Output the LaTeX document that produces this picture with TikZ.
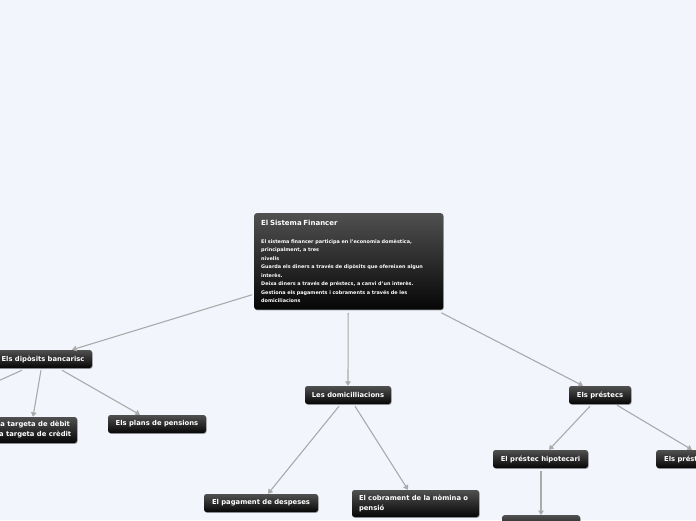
\documentclass[tikz,border=0pt]{standalone}
\usepackage{fontspec}
\setmainfont{DejaVu Sans}
\usetikzlibrary{shadows,arrows.meta,calc}
\definecolor{bg}{RGB}{243,245,253}
\definecolor{boxtop}{RGB}{80,80,80}
\definecolor{boxbot}{RGB}{6,6,6}
\definecolor{conncol}{RGB}{170,170,170}
\tikzset{
 box/.style={rounded corners=2.5pt, top color=boxtop, bottom color=boxbot, draw=none, text=white,
   font=\fontsize{6.8}{10}\selectfont\bfseries, inner sep=0pt,
   drop shadow={shadow xshift=0.6pt, shadow yshift=-0.8pt, opacity=0.35, fill=black}},
 conn/.style={draw=conncol, line width=1.1pt, -{Triangle[width=5.5pt,length=4.5pt]}},
}
\begin{document}
\begin{tikzpicture}[x=1pt,y=1pt]
\fill[bg] (0,0) rectangle (696,520);
\useasboundingbox (0,0) rectangle (696,520);

\node[box, anchor=north west, text width=175pt, inner xsep=7pt, inner ysep=7pt, align=left,
  font=\fontsize{4.9}{8.5}\selectfont\bfseries] (c) at (254,307)
 {{\fontsize{7}{8}\selectfont El Sistema Financer}\\[9pt]
  El sistema financer participa en l'economia domèstica,\\
  principalment, a tres\\
  nivells\\
  Guarda els diners a través de dipòsits que ofereixen algun\\
  interès.\\
  Deixa diners a través de préstecs, a canvi d'un interès.\\
  Gestiona els pagaments i cobraments a través de les\\
  domiciliacions};

\node[box, minimum width=98pt, minimum height=18pt] (dep) at (43,161) {Els dipòsits bancarisc};
\node[box, minimum width=88pt, minimum height=26pt, align=center] (targ) at (33,90) {La targeta de dèbit\\La targeta de crèdit};
\node[box, minimum width=98pt, minimum height=18pt] (plans) at (157,96) {Els plans de pensions};
\node[box, minimum width=86pt, minimum height=18pt] (dom) at (348,125) {Les domicilliacions};
\node[box, minimum width=114pt, minimum height=18pt] (pag) at (261,17) {El pagament de despeses};
\node[box, text width=113pt, inner xsep=7pt, minimum height=27pt, align=left] (cob) at (415.5,16.5) {El cobrament de la nòmina o\\pensió};
\node[box, minimum width=62pt, minimum height=18pt] (pres) at (600,125) {Els préstecs};
\node[box, minimum width=95pt, minimum height=18pt] (hip) at (540.5,61) {El préstec hipotecari};
\node[box, anchor=west, minimum height=18pt, inner xsep=8pt] (pres2) at (656,61) {Els préstecs personals};
\node[box, anchor=north, minimum width=78pt, minimum height=18pt] (bot) at (541,5) {};
\coordinate (offl) at (-44,120);

\draw[conn] ($(c.south west)+(-2,15)$) -- ($(dep.north)+(29,0)$);
\draw[draw=conncol, line width=1.1pt] ($(dep.south)+(-21,-2)$) -- (offl);
\draw[conn] ($(dep.south)+(-2,-2)$) -- (targ.north);
\draw[conn] ($(dep.south)+(19,-2)$) -- ($(plans.north)+(-17,0)$);
\draw[conn] ($(c.south)+(-0.5,-3)$) -- (dom.north);
\draw[conn] ($(dom.south)+(-9,-2)$) -- ($(pag.north)+(7,0)$);
\draw[conn] ($(dom.south)+(7,-2)$) -- ($(cob.north)+(-7.5,0)$);
\draw[conn] ($(c.south east)+(-2,-3)$) -- ($(pres.north)+(-17,0)$);
\draw[conn] ($(pres.south)+(-10,-2)$) -- ($(hip.north)+(8.5,0)$);
\draw[conn] ($(pres.south)+(17,-1)$) -- ($(pres2.north west)+(36,0)$);
\draw[conn] ($(hip.south)+(0.5,-3)$) -- (bot.north);
\end{tikzpicture}
\end{document}
